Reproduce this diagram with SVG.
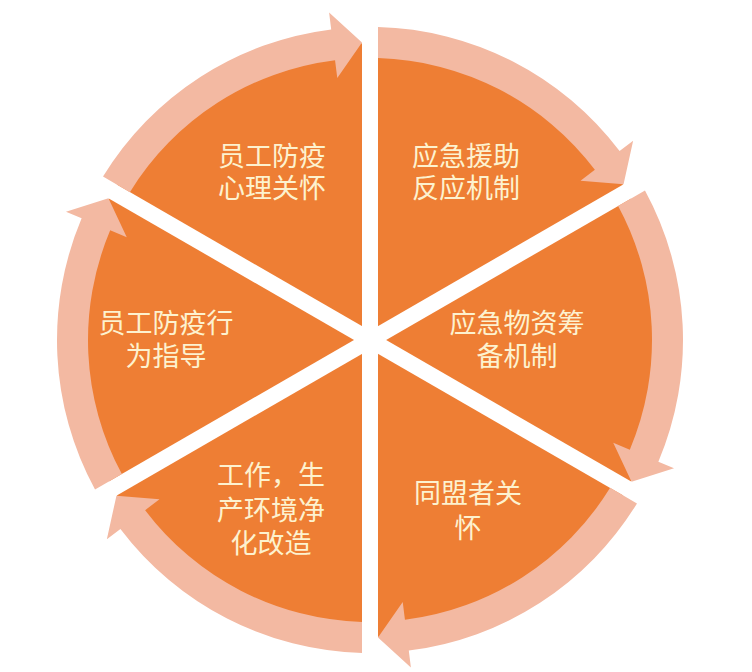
<svg xmlns="http://www.w3.org/2000/svg" xmlns:xlink="http://www.w3.org/1999/xlink" width="752" height="672" viewBox="0 0 752 672">
<style>
.wedge{fill:#EE7E34}
.div{stroke:#FFFFFF;stroke-width:16;stroke-linecap:butt}
.ring{fill:#F3B9A2}
.lbl{font-family:"Noto Sans CJK SC","Noto Sans",sans-serif;font-size:27px;fill:#FDF2CF;text-anchor:middle}
</style>
<defs>
<path id="wedge" d="M0 0 L0 -297 A297 297 0 0 1 257.21 -148.5 Z"/>
<path id="seg" d="M8 -312.9 A313 313 0 0 1 249.58 -188.89 L263.14 -199.15 L253.55 -155.63 L210.51 -159.32 L224.86 -170.18 A282 282 0 0 0 8 -281.89 Z"/>
</defs>
<rect width="752" height="672" fill="#FFFFFF"/>
<g transform="translate(370 340)">
<g id="node-top-right"><use href="#wedge" class="wedge" transform="rotate(0)"/></g>
<g id="node-right"><use href="#wedge" class="wedge" transform="rotate(60)"/></g>
<g id="node-bottom-right"><use href="#wedge" class="wedge" transform="rotate(120)"/></g>
<g id="node-bottom-left"><use href="#wedge" class="wedge" transform="rotate(180)"/></g>
<g id="node-left"><use href="#wedge" class="wedge" transform="rotate(240)"/></g>
<g id="node-top-left"><use href="#wedge" class="wedge" transform="rotate(300)"/></g>
<g id="dividers">
<line class="div" x1="0" y1="-300" x2="0" y2="300"/>
<line class="div" x1="-259.81" y1="150" x2="259.81" y2="-150"/>
<line class="div" x1="-259.81" y1="-150" x2="259.81" y2="150"/>
</g>
<g id="connectors">
<use href="#seg" class="ring" transform="rotate(0)"/>
<use href="#seg" class="ring" transform="rotate(60)"/>
<use href="#seg" class="ring" transform="rotate(120)"/>
<use href="#seg" class="ring" transform="rotate(180)"/>
<use href="#seg" class="ring" transform="rotate(240)"/>
<use href="#seg" class="ring" transform="rotate(300)"/>
</g>
</g>
<g id="label-top-left"><text class="lbl" x="272" y="166">员工防疫<tspan x="272" dy="32">心理关怀</tspan></text></g>
<g id="label-top-right"><text class="lbl" x="466" y="166">应急援助<tspan x="466" dy="32">反应机制</tspan></text></g>
<g id="label-left"><text class="lbl" x="166" y="333">员工防疫行<tspan x="166" dy="33">为指导</tspan></text></g>
<g id="label-right"><text class="lbl" x="517" y="333">应急物资筹<tspan x="517" dy="33">备机制</tspan></text></g>
<g id="label-bottom-left"><text class="lbl" x="271" y="485">工作，生<tspan x="271" dy="35">产环境净</tspan><tspan x="271" dy="33">化改造</tspan></text></g>
<g id="label-bottom-right"><text class="lbl" x="468" y="503">同盟者关<tspan x="468" dy="35">怀</tspan></text></g>
</svg>
